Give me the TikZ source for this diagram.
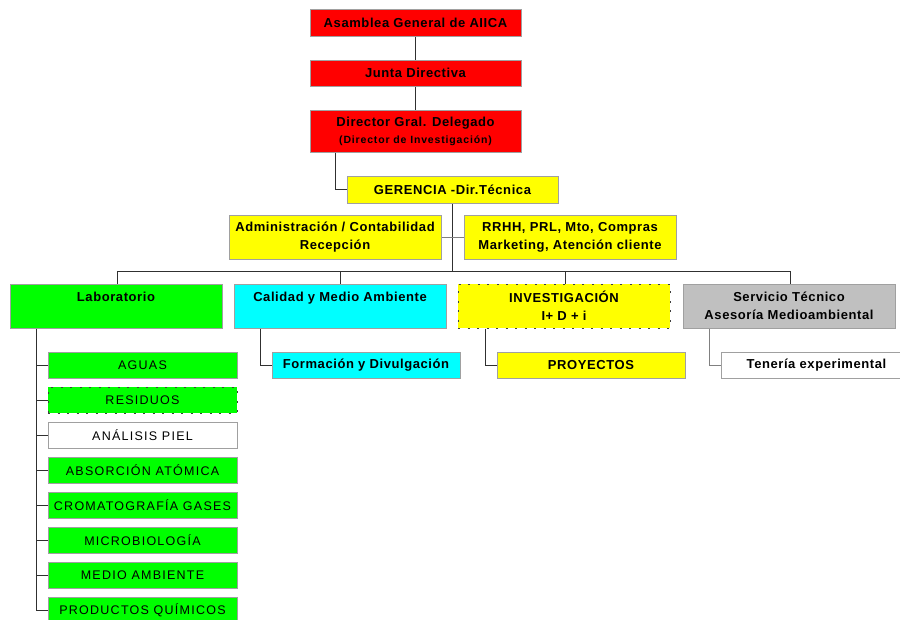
\documentclass[tikz,border=0pt]{standalone}
\usepackage{fontspec}
\setmainfont{Liberation Sans}
\newfontfamily\bsp[LetterSpace=4.5]{Liberation Sans Bold}
\newfontfamily\ssp[LetterSpace=8]{Liberation Sans Bold}
\newfontfamily\rsp[LetterSpace=10]{Liberation Sans}
\definecolor{bordergray}{HTML}{A0A0A0}
\definecolor{dashgray}{HTML}{404040}
\definecolor{linegray}{HTML}{303030}
\definecolor{boxgray}{HTML}{C0C0C0}
\definecolor{cyanbox}{HTML}{00FFFF}
\definecolor{greenbox}{HTML}{00FF00}
\definecolor{yellowbox}{HTML}{FFFF00}
\definecolor{redbox}{HTML}{FF0000}
\tikzset{
  box/.style={draw=bordergray, line width=1pt, rectangle, inner sep=0pt, align=center, font=\fontsize{13}{18}\bsp},
  topbox/.style={box, minimum width=211pt, minimum height=27pt},
  midbox/.style={box, minimum width=212pt, minimum height=44pt},
  subbox/.style={box, minimum width=188pt, minimum height=26pt},
  labbox/.style={box, fill=greenbox, minimum width=189pt, minimum height=26pt, font=\fontsize{12.5}{14}\rsp},
  dashbox/.style={draw=dashgray, line width=1pt, dash pattern=on 2pt off 7.5pt},
  conn/.style={draw=linegray, line width=0.9pt},
  gconn/.style={draw=gray, line width=0.9pt}
}
\begin{document}
\begin{tikzpicture}[x=1pt,y=-1pt]
\useasboundingbox (0,0) rectangle (900,619);
% top chain
\node[topbox, fill=redbox] (asam) at (415.5,22.5) {Asamblea General de AIICA};
\node[topbox, fill=redbox, minimum height=26pt] (junta) at (415.5,73) {Junta Directiva};
\node[topbox, fill=redbox, minimum height=42pt] (dir) at (415.5,131) {Director Gral. Delegado\\[-1pt]{\fontsize{10.5}{12}\ssp(Director de Investigación)}};
\node[topbox, fill=yellowbox] (ger) at (452.5,189.5) {GERENCIA -Dir.Técnica};
\node[midbox, fill=yellowbox] (adm) at (335,237.5) {Administración / Contabilidad\\Recepción};
\node[midbox, fill=yellowbox] (rrhh) at (570,237.5) {RRHH, PRL, Mto, Compras\\Marketing, Atención cliente};
% level 3
\node[midbox, fill=greenbox] (lab) at (116,306) {Laboratorio\\\mbox{}};
\node[midbox, fill=cyanbox] (cal) at (340,306) {Calidad y Medio Ambiente\\\mbox{}};
\node[midbox, fill=yellowbox, draw=none] (inv) at (564,306) {INVESTIGACIÓN\\I+ D + i};
\node[dashbox, minimum width=212pt, minimum height=44pt, inner sep=0pt] at (564,306) {};
\node[midbox, fill=boxgray] (serv) at (789,306) {Servicio Técnico\\Asesoría Medioambiental};
% sub boxes
\node[subbox, fill=cyanbox] (form) at (366,365) {Formación y Divulgación};
\node[subbox, fill=yellowbox] (proy) at (591,365) {PROYECTOS};
\node[subbox, fill=white, anchor=west, minimum width=190pt] (ten) at (721,365) {Tenería experimental};
% lab children
\node[labbox] (c1) at (142.5,365) {AGUAS};
\node[labbox, draw=none] (c2) at (142.5,400) {RESIDUOS};
\node[dashbox, minimum width=189pt, minimum height=26pt, inner sep=0pt] at (142.5,400) {};
\node[labbox, fill=white] (c3) at (142.5,435) {ANÁLISIS PIEL};
\node[labbox] (c4) at (142.5,470) {ABSORCIÓN ATÓMICA};
\node[labbox] (c5) at (142.5,505) {CROMATOGRAFÍA GASES};
\node[labbox] (c6) at (142.5,540) {MICROBIOLOGÍA};
\node[labbox] (c7) at (142.5,575) {MEDIO AMBIENTE};
\node[labbox] (c8) at (142.5,610) {PRODUCTOS QUÍMICOS};
% connectors top
\draw[conn] (asam.south) -- (junta.north);
\draw[conn] (junta.south) -- (dir.north);
\draw[conn] (dir.south -| 335,0) |- (ger.west);
\coordinate (bar) at (452.5,271.5);
\draw[conn] (ger.south) -- (bar);
\draw[gconn] (adm.east) -- (rrhh.west);
\draw[conn] (lab.north -| 117,0) |- (bar);
\draw[conn] (serv.north -| 790,0) |- (bar);
\draw[conn] (cal.north) -- (cal.north |- bar);
\draw[conn] (inv.north -| 565,0) -- (565,271.5);
% sub connectors
\draw[conn] (cal.south -| 260,0) |- (form.west);
\draw[conn] (inv.south -| 485,0) |- (proy.west);
\draw[gconn] (serv.south -| 709,0) |- (ten.west);
% lab children connectors
\draw[conn] (lab.south -| 36,0) -- (36,610);
\foreach \c in {c1,c2,c3,c4,c5,c6,c7,c8}{
  \draw[conn] (\c.west -| 36,0) -- (\c.west);
}
\end{tikzpicture}
\end{document}
